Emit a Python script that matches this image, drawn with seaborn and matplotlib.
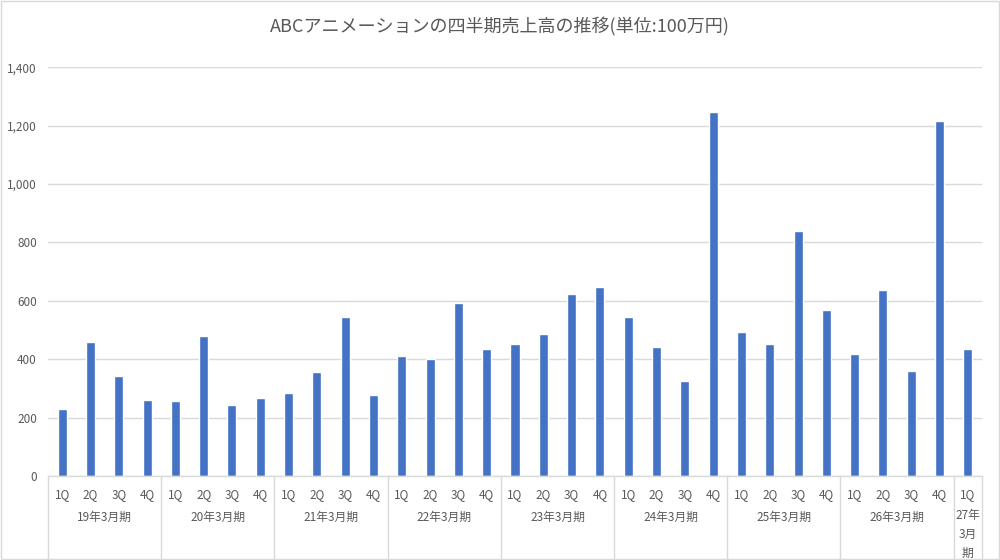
import matplotlib
matplotlib.use("Agg")
import matplotlib.pyplot as plt
import seaborn as sns
import pandas as pd
from matplotlib.ticker import FuncFormatter
from matplotlib.patches import Rectangle

sns.set_theme(style="white")
plt.rcParams['font.family'] = ['Noto Sans CJK JP', 'DejaVu Sans']

title = "ABCアニメーションの四半期売上高の推移(単位:100万円)"
years = ["19年3月期", "20年3月期", "21年3月期", "22年3月期", "23年3月期",
         "24年3月期", "25年3月期", "26年3月期", "27年\n3月\n期"]
quarters_per_year = [4, 4, 4, 4, 4, 4, 4, 4, 1]
quarter_names = ["1Q", "2Q", "3Q", "4Q"]
sales = [229, 458, 342, 260,
         256, 478, 243, 266,
         283, 355, 546, 277,
         410, 400, 591, 434,
         451, 488, 622, 649,
         546, 441, 325, 1247,
         492, 451, 839, 570,
         417, 636, 359, 1216,
         434]

labels = []
year_col = []
qlabels = []
for y, n in zip(years, quarters_per_year):
    for q in range(n):
        labels.append(f"{y}-{quarter_names[q]}")
        year_col.append(y)
        qlabels.append(quarter_names[q])
df = pd.DataFrame({"cat": labels, "sales": sales, "year": year_col})

grey = "#595959"
grid = "#D9D9D9"

fig = plt.figure(figsize=(10, 5.6), dpi=100)
ax = fig.add_axes([0.048, 0.15, 0.934, 0.7298])
sns.barplot(data=df, x="cat", y="sales", color="#4472C4", width=0.32,
            saturation=1, ax=ax, order=labels)
ax.set_ylim(0, 1400)
ax.set_xlim(-0.5, len(labels) - 0.5)
ax.set_yticks(range(0, 1401, 200))
ax.yaxis.set_major_formatter(FuncFormatter(lambda v, p: f"{int(v):,}"))
ax.tick_params(axis='y', length=0, pad=8, labelsize=8.5, labelcolor=grey)
ax.grid(axis='y', color=grid, linewidth=1)
ax.set_axisbelow(True)
for s in ["left", "right", "top"]:
    ax.spines[s].set_visible(False)
ax.spines["bottom"].set_color(grid)
ax.spines["bottom"].set_linewidth(1)
ax.set_xlabel("")
ax.set_ylabel("")

ax.set_xticks(range(len(labels)))
ax.set_xticklabels(qlabels)
ax.tick_params(axis='x', length=0, pad=9, labelsize=8.5, labelcolor=grey)

trans = ax.get_xaxis_transform()
axh_px = 0.7298 * 560
bottom_frac = -(0.15 * 560) / axh_px
start = 0
bounds = [-0.5]
for y, n in zip(years, quarters_per_year):
    center = start + (n - 1) / 2
    if "\n" in y:
        ax.text(center, -33 / axh_px, y, transform=trans, ha="center", va="top",
                fontsize=8.5, color=grey, linespacing=1.6, clip_on=False)
    else:
        ax.text(center, -41 / axh_px, y, transform=trans, ha="center", va="center",
                fontsize=8.5, color=grey, clip_on=False)
    start += n
    bounds.append(start - 0.5)
for b in bounds:
    ax.plot([b, b], [0, bottom_frac], transform=trans, color=grid, lw=1,
            clip_on=False)

fig.text(0.5, 1 - 27 / 560, title, ha="center", va="center", fontsize=13,
         color=grey)
fig.patches.append(Rectangle((0.001, 0.001), 0.998, 0.998, transform=fig.transFigure,
                             fill=False, edgecolor=grid, lw=1))
fig.savefig("out.png", dpi=100, facecolor="white")
